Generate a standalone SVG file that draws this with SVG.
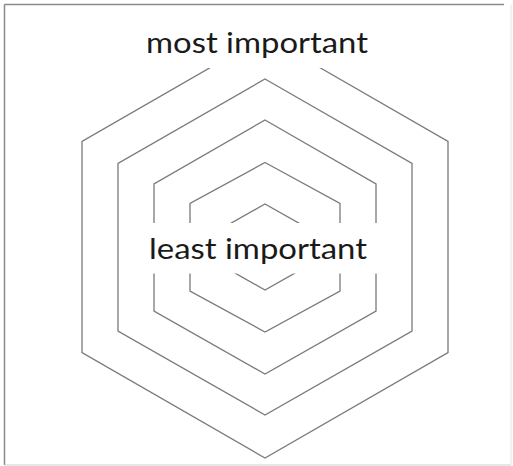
<svg xmlns="http://www.w3.org/2000/svg" width="513" height="466" viewBox="0 0 513 466">
<style>
.hex{fill:none;stroke:#7a7a7a;stroke-width:1.3;stroke-linejoin:miter}
.bg{fill:#ffffff}
.lbl{font-family:Lato,"Open Sans","Liberation Sans",sans-serif;font-size:29px;fill:#1a1a1a}
</style>
<rect x="0" y="0" width="513" height="466" fill="#ffffff"/>
<g id="frame">
<line x1="4.5" y1="4.5" x2="504" y2="4.5" stroke="#8a8a8a" stroke-width="1.5"/>
<line x1="4.5" y1="4.5" x2="4.5" y2="465" stroke="#8a8a8a" stroke-width="1.5"/>
<line x1="4.5" y1="465" x2="511" y2="465" stroke="#d0d0d0" stroke-width="1.2"/>
<line x1="511" y1="4.5" x2="511" y2="465" stroke="#e4e4e4" stroke-width="1"/>
</g>
<g id="connectors">
<polygon id="hex1" class="hex" points="265,36 448,141.5 448,352.5 265,458 82,352.5 82,141.5"/>
<polygon id="hex2" class="hex" points="265,79 412,163.5 412,331 265,415 118,331 118,163.5"/>
<polygon id="hex3" class="hex" points="265,120 376,184 376,311 265,374 154,311 154,184"/>
<polygon id="hex4" class="hex" points="265,162.5 340,203.5 340,291 265,332 190,291 190,203.5"/>
<polygon id="hex5" class="hex" points="265,204 302,225 302,269 265,290 228,269 228,225"/>
</g>
<g id="most-important">
<rect class="bg" x="138" y="18" width="252" height="50"/>
<text class="lbl" x="146" y="53" textLength="222" lengthAdjust="spacingAndGlyphs">most important</text>
</g>
<g id="least-important">
<rect class="bg" x="132" y="223" width="264" height="50.5"/>
<text class="lbl" x="149" y="259" textLength="218" lengthAdjust="spacingAndGlyphs">least important</text>
</g>
</svg>
